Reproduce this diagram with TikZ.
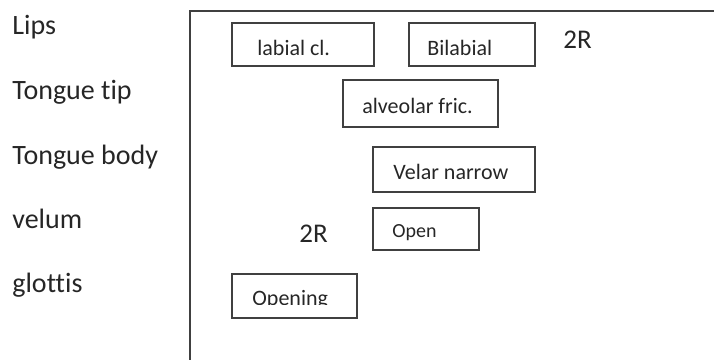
\documentclass[tikz,border=0pt]{standalone}
\usepackage{fontspec}
\setmainfont{Carlito}[Ligatures={NoCommon}]
\definecolor{inkgray}{HTML}{262626}
\definecolor{linegray}{HTML}{404040}

\tikzset{
  tier/.style={anchor=base west,inner sep=0pt,text=inkgray,font=\fontsize{14}{16}\selectfont},
  gesture/.style={draw=linegray,line width=1pt,anchor=north west,inner sep=0pt},
  gtext/.style={anchor=base west,inner sep=0pt,text=inkgray,font=\fontsize{11}{13}\selectfont},
  rep/.style={anchor=base west,inner sep=0pt,text=inkgray,font=\fontsize{13.5}{15}\selectfont}
}

\begin{document}
\begin{tikzpicture}
		[x=0.5pt,y=-0.5pt]
		\useasboundingbox (0,0) rectangle (714,360);

		% tiers
		\node[tier] (lips) at (12,34) {Lips};
		\node[tier] (tip) at (12,99) {Tongue tip};
		\node[tier] (body) at (12,164) {Tongue body};
		\node[tier] (velum) at (12,228) {velum};
		\node[tier] (glottis) at (12,292) {glottis};

		% frame
		\draw[linegray,line width=1.25pt] (714,11) -- (190,11) -- (190,360);

		% gesture boxes
		\node[gesture,minimum width=71pt,minimum height=21.5pt] (b1) at (231,22) {};
		\node[gesture,minimum width=63pt,minimum height=21.5pt] (b2) at (408,22) {};
		\node[gesture,minimum width=77.5pt,minimum height=23.5pt] (b3) at (342,79) {};
		\node[gesture,minimum width=81pt,minimum height=22.5pt] (b4) at (372,146) {};
		\node[gesture,minimum width=53pt,minimum height=21pt] (b5) at (372,207) {};
		\node[gesture,minimum width=62.5pt,minimum height=22pt] (b6) at (231,273) {};

		\node[gtext] (t1) at (257,55) {labial cl.};
		\node[gtext] (t2) at (427,55) {Bilabial};
		\node[gtext] (t3) at (362,113) {alveolar fric.};
		\node[gtext] (t4) at (393,179) {Velar narrow};
		\node[gtext,font=\fontsize{10}{12}\selectfont] (t5) at (392,237) {Open};
		\begin{scope}
			\clip (231,273) rectangle (356,304);
			\node[gtext] (t6) at (252,305) {Opening};
		\end{scope}

		% repetitions
		\node[rep] (r1) at (563,48) {2R};
		\node[rep] (r2) at (299,242) {2R};

	\end{tikzpicture}
\end{document}
